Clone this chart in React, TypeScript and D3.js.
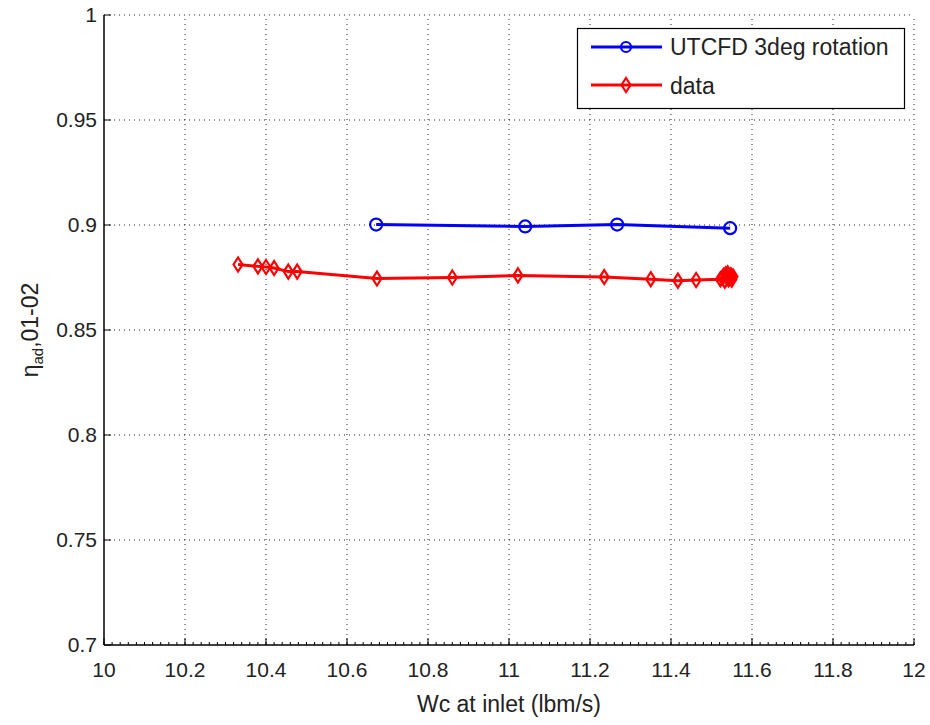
import React from "react";
import * as d3 from "d3";

const blueX = [10.672, 11.04, 11.267, 11.546];
const blueY = [0.9002, 0.8993, 0.9002, 0.8985];

const redX = [10.331, 10.38, 10.40, 10.42, 10.455, 10.477, 10.674, 10.86, 11.022, 11.235, 11.35, 11.417, 11.462, 11.522, 11.527, 11.53, 11.533, 11.535, 11.538, 11.54, 11.542, 11.545, 11.548, 11.55, 11.553];
const redY = [0.8812, 0.8803, 0.8800, 0.8795, 0.8778, 0.8778, 0.8745, 0.8750, 0.8760, 0.8752, 0.8742, 0.8735, 0.8738, 0.8742, 0.8750, 0.8758, 0.8735, 0.8765, 0.8750, 0.8770, 0.8742, 0.8748, 0.8760, 0.8740, 0.8755];

const xTicks = [10, 10.2, 10.4, 10.6, 10.8, 11, 11.2, 11.4, 11.6, 11.8, 12];
const yTicks = [0.7, 0.75, 0.8, 0.85, 0.9, 0.95, 1];
const xLabel = "Wc at inlet (lbm/s)";
const seriesNames = ["UTCFD 3deg rotation", "data"];

const W = 930, H = 725;
const L = 104, R = 914, T = 15, B = 645;
const FONT = "'Liberation Sans', Arial, Helvetica, sans-serif";

export default function App() {
  const x = d3.scaleLinear().domain([10, 12]).range([L, R]);
  const y = d3.scaleLinear().domain([0.7, 1]).range([B, T]);
  const line = d3.line<[number, number]>().x(d => x(d[0])).y(d => y(d[1]));
  const blue: [number, number][] = blueX.map((v, i) => [v, blueY[i]]);
  const red: [number, number][] = redX.map((v, i) => [v, redY[i]]);
  const minor = d3.range(0, 101).map(i => 10 + i * 0.02);
  const diamond = (cx: number, cy: number) =>
    `M${cx},${cy - 7}L${cx + 4.5},${cy}L${cx},${cy + 7}L${cx - 4.5},${cy}Z`;

  return (
    <svg width={W} height={H} style={{ position: "absolute", left: 0, top: 0, background: "#fff" }} fontFamily={FONT}>
      <rect x={0} y={0} width={W} height={H} fill="#fff" />
      {xTicks.slice(1).map(t => (
        <line key={"gx" + t} x1={x(t)} x2={x(t)} y1={B} y2={T} stroke="#222" strokeWidth={1} strokeDasharray="1,4" />
      ))}
      {yTicks.slice(1).map(t => (
        <line key={"gy" + t} x1={L} x2={R} y1={y(t)} y2={y(t)} stroke="#222" strokeWidth={1} strokeDasharray="1,4" />
      ))}
      <line x1={L} x2={R} y1={B} y2={B} stroke="#000" strokeWidth={1.5} />
      <line x1={L} x2={L} y1={B} y2={T} stroke="#000" strokeWidth={1.5} />
      {minor.map((t, i) => (
        <line key={"mx" + i} x1={x(t)} x2={x(t)} y1={B} y2={B - 3} stroke="#000" strokeWidth={1} />
      ))}
      {xTicks.map(t => (
        <g key={"xt" + t}>
          <line x1={x(t)} x2={x(t)} y1={B} y2={B - 7} stroke="#000" strokeWidth={1} />
          <text x={x(t)} y={B + 32} textAnchor="middle" fontSize={21} fill="#222">{String(t)}</text>
        </g>
      ))}
      {yTicks.map(t => (
        <g key={"yt" + t}>
          <line x1={L} x2={L + 7} y1={y(t)} y2={y(t)} stroke="#000" strokeWidth={1} />
          <text x={L - 7} y={y(t) + 7} textAnchor="end" fontSize={21} fill="#222">{String(t)}</text>
        </g>
      ))}
      <text x={(L + R) / 2} y={712} textAnchor="middle" fontSize={23} fill="#222">{xLabel}</text>
      <text transform={`translate(38,330) rotate(-90)`} textAnchor="middle" fontSize={23} fill="#222">
        η<tspan fontSize={15} dy={5}>ad</tspan><tspan dy={-5}>,01-02</tspan>
      </text>
      <path d={line(blue) || ""} fill="none" stroke="#0000ff" strokeWidth={3} />
      {blue.map((p, i) => (
        <circle key={"b" + i} cx={x(p[0])} cy={y(p[1])} r={6} fill="none" stroke="#0000ff" strokeWidth={2.2} />
      ))}
      <path d={line(red) || ""} fill="none" stroke="#ff0000" strokeWidth={3} />
      {red.map((p, i) => (
        <path key={"r" + i} d={diamond(x(p[0]), y(p[1]))} fill="none" stroke="#ff0000" strokeWidth={2.2} />
      ))}
      <rect x={577.5} y={28.5} width={327} height={80} fill="#fff" stroke="#000" strokeWidth={1.2} />
      <line x1={591} x2={662} y1={47} y2={47} stroke="#0000ff" strokeWidth={3} />
      <circle cx={626} cy={47} r={5} fill="none" stroke="#0000ff" strokeWidth={2.2} />
      <text x={670} y={55} fontSize={23} fill="#222">{seriesNames[0]}</text>
      <line x1={591} x2={662} y1={85} y2={85} stroke="#ff0000" strokeWidth={3} />
      <path d={diamond(626, 85)} fill="none" stroke="#ff0000" strokeWidth={2.2} />
      <text x={670} y={94} fontSize={23} fill="#222">{seriesNames[1]}</text>
    </svg>
  );
}
